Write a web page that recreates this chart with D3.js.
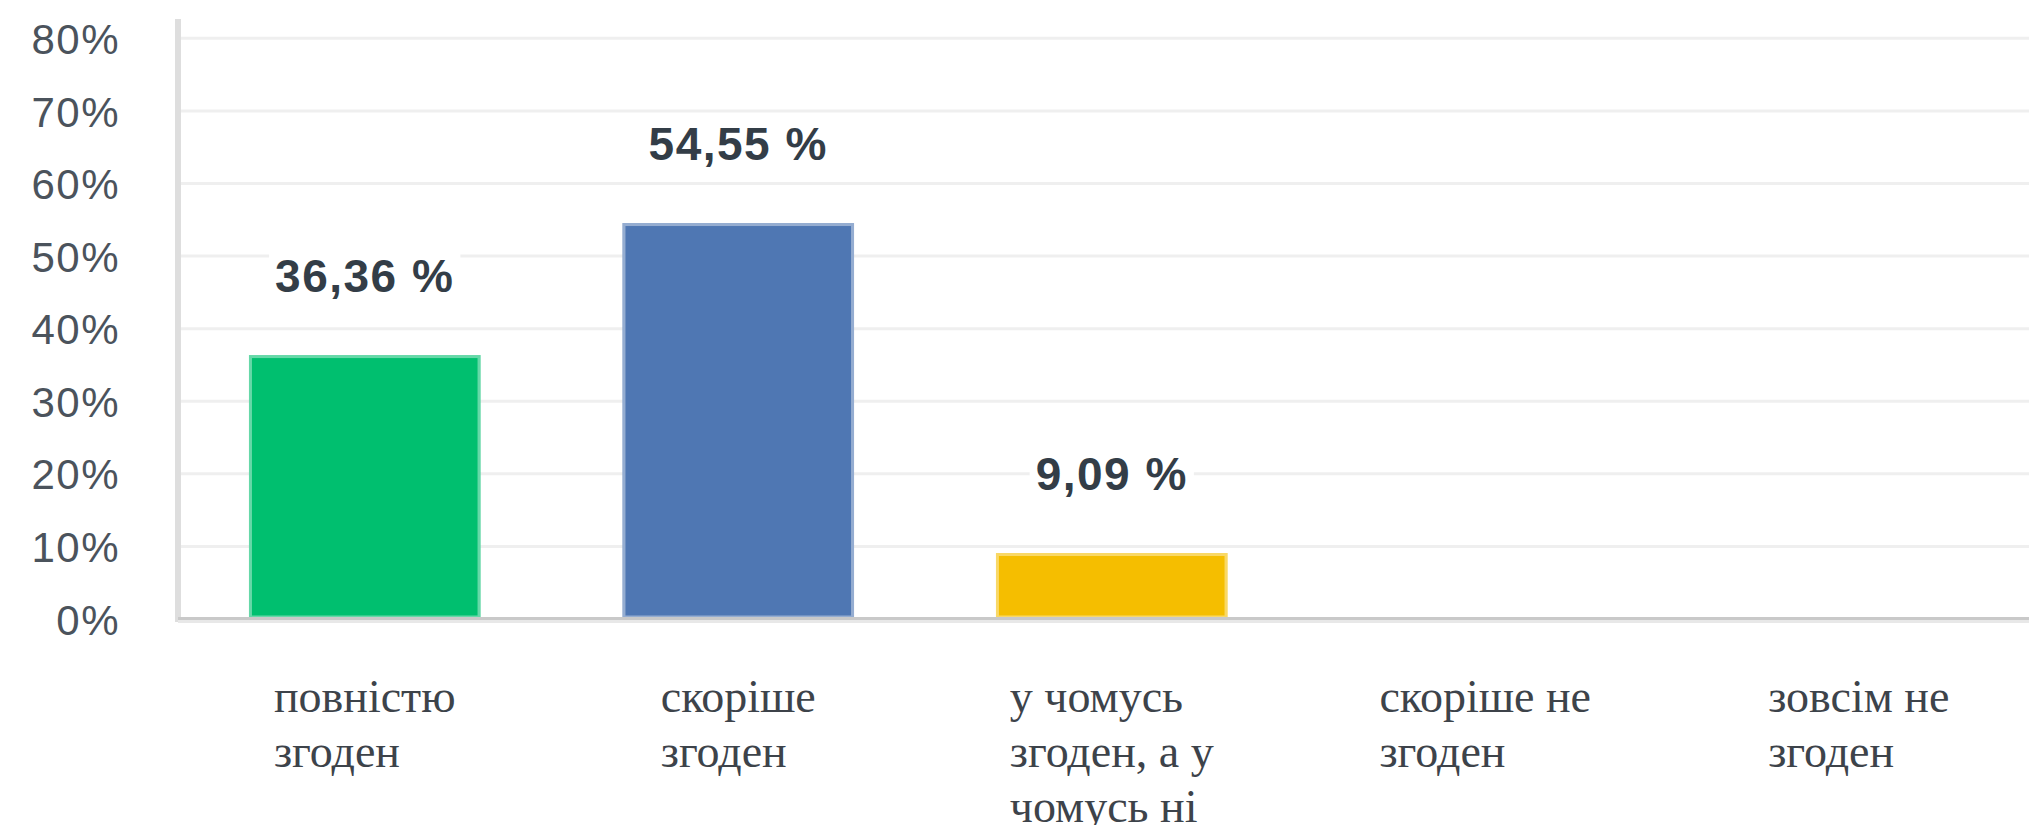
<!DOCTYPE html>
<html>
<head>
<meta charset="utf-8">
<script src="https://cdn.jsdelivr.net/npm/d3@7"></script>
<style>
  html, body { margin: 0; padding: 0; background: #ffffff; overflow: hidden; }
  svg { display: block; }
</style>
</head>
<body>
<div id="chart"></div>
<script>
// ---- data ----
const categories = ["повністю згоден", "скоріше згоден", "у чомусь згоден, а у чомусь ні", "скоріше не згоден", "зовсім не згоден"];
const categoryLines = [
  ["повністю", "згоден"],
  ["скоріше", "згоден"],
  ["у чомусь", "згоден, а у", "чомусь ні"],
  ["скоріше не", "згоден"],
  ["зовсім не", "згоден"]
];
const values = [36.36, 54.55, 9.09, 0, 0];
const valueLabels = ["36,36 %", "54,55 %", "9,09 %", "", ""];
const barColors = ["#00bf6f", "#4f77b3", "#f5be00", "#6bc8cd", "#ff8b4f"];
const yTicks = [0, 10, 20, 30, 40, 50, 60, 70, 80];
const yTickLabels = ["0%", "10%", "20%", "30%", "40%", "50%", "60%", "70%", "80%"];

// ---- layout ----
const W = 2029, H = 825;
const axisX = 178;
const y0 = 619, yTop = 38.3;

const svg = d3.select("#chart").append("svg")
  .attr("width", W).attr("height", H);

const x = d3.scaleBand()
  .domain(categories)
  .range([axisX, axisX + 5 * 373.5])
  .paddingInner(0.38)
  .paddingOuter(0.19);

const y = d3.scaleLinear().domain([0, 80]).range([y0, yTop]);

// gridlines
svg.append("g").selectAll("line.grid")
  .data(yTicks.filter(t => t > 0))
  .join("line")
  .attr("x1", axisX + 2).attr("x2", W)
  .attr("y1", d => y(d)).attr("y2", d => y(d))
  .attr("stroke", "#efefef").attr("stroke-width", 3);

// y axis tick labels
const yAxis = d3.axisLeft(y).tickValues(yTicks).tickFormat((d, i) => yTickLabels[i]).tickSize(0).tickPadding(0);
const gy = svg.append("g").attr("transform", `translate(${axisX - 58},0)`).call(yAxis);
gy.select(".domain").remove();
gy.selectAll("text")
  .attr("font-family", "'Liberation Sans', Arial, sans-serif")
  .attr("font-size", 42)
  .attr("letter-spacing", "1.5px")
  .attr("fill", "#4b535c")
  .attr("dy", "0.36em")
  .attr("x", 0);

// y axis line
svg.append("line")
  .attr("x1", axisX).attr("x2", axisX)
  .attr("y1", 19).attr("y2", y0 + 3)
  .attr("stroke", "#dedede").attr("stroke-width", 6);

// bars
svg.append("g").selectAll("rect.bar")
  .data(values.map((v, i) => ({ c: categories[i], v, i })).filter(d => d.v > 0))
  .join("rect")
  .attr("x", d => x(d.c))
  .attr("width", x.bandwidth())
  .attr("y", d => y(d.v))
  .attr("height", d => y0 - 2 - y(d.v))
  .attr("fill", d => barColors[d.i]);

// lighter edges on bars
svg.append("g").selectAll("rect.edge")
  .data(values.map((v, i) => ({ c: categories[i], v, i })).filter(d => d.v > 0))
  .join("rect")
  .attr("x", d => x(d.c) + 1.5)
  .attr("width", x.bandwidth() - 3)
  .attr("y", d => y(d.v) + 1.5)
  .attr("height", d => y0 - 2 - y(d.v) - 1.5)
  .attr("fill", "none")
  .attr("stroke", "#ffffff").attr("stroke-opacity", 0.4).attr("stroke-width", 3);

// baseline
svg.append("rect").attr("x", axisX).attr("y", y0 - 2).attr("width", W - axisX).attr("height", 3).attr("fill", "#c9c9c9");
svg.append("rect").attr("x", axisX).attr("y", y0 + 1).attr("width", W - axisX).attr("height", 3).attr("fill", "#e8e8e8");

// value labels with white background
const lbl = svg.append("g").selectAll("g.vl")
  .data(values.map((v, i) => ({ c: categories[i], v, i, t: valueLabels[i] })).filter(d => d.t))
  .join("g");
lbl.each(function(d) {
  const g = d3.select(this);
  const cx = x(d.c) + x.bandwidth() / 2;
  const by = y(d.v) - 63;
  const t = g.append("text")
    .attr("x", cx).attr("y", by)
    .attr("text-anchor", "middle")
    .attr("font-family", "'Liberation Sans', Arial, sans-serif")
    .attr("font-weight", "bold")
    .attr("font-size", 46)
    .attr("letter-spacing", "1.5px")
    .attr("fill", "#333d47")
    .text(d.t);
  const bb = t.node().getBBox();
  g.insert("rect", "text")
    .attr("x", bb.x - 6).attr("y", bb.y - 2)
    .attr("width", bb.width + 12).attr("height", bb.height + 4)
    .attr("fill", "#ffffff");
});

// x category labels: block centered, lines left-aligned
const xl = svg.append("g").selectAll("g.xl")
  .data(categories.map((c, i) => ({ c, lines: categoryLines[i] })))
  .join("g");
xl.each(function(d) {
  const g = d3.select(this);
  const texts = d.lines.map((ln, k) => g.append("text")
    .attr("y", 711.7 + k * 55)
    .attr("font-family", "'Liberation Serif', 'Times New Roman', serif")
    .attr("font-size", 46)
    .attr("fill", "#3d434a")
    .text(ln));
  const maxW = d3.max(texts, t => t.node().getComputedTextLength());
  const left = x(d.c) + x.bandwidth() / 2 - maxW / 2;
  texts.forEach(t => t.attr("x", left));
});
</script>
</body>
</html>
